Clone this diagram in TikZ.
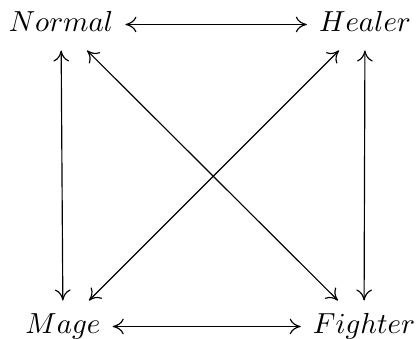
\documentclass[tikz,border=0pt]{standalone}
\usepackage{amsmath}
\usetikzlibrary{arrows.meta,positioning}
\tikzset{
	role/.style={inner xsep=4pt, inner ysep=1pt, text height=10pt, text depth=5.5pt},
	link/.style={{To[length=3.8pt, width=5.4pt]}-{To[length=3.8pt, width=5.4pt]}, thin},
}
\begin{document}
\begin{tikzpicture}[x=0.01212cm, y=-0.01212cm]
	\useasboundingbox (0,0) rectangle (416,338);
	\node[role, anchor=base] at (61,31) (normal) {$Normal$};
	\node[role, anchor=base] at (365,31) (healer) {$Healer$};
	\node[role, anchor=base] at (63,333) (mage) {$Mage$};
	\node[role, anchor=base] at (364,333) (fighter) {$Fighter$};
	\draw[link] (normal) -- (healer);
	\draw[link] (mage) -- (fighter);
	\draw[link] (normal) -- (mage);
	\draw[link] (healer) -- (fighter);
	\draw[link] (normal) -- (fighter);
	\draw[link] (mage) -- (healer);
\end{tikzpicture}
\end{document}
